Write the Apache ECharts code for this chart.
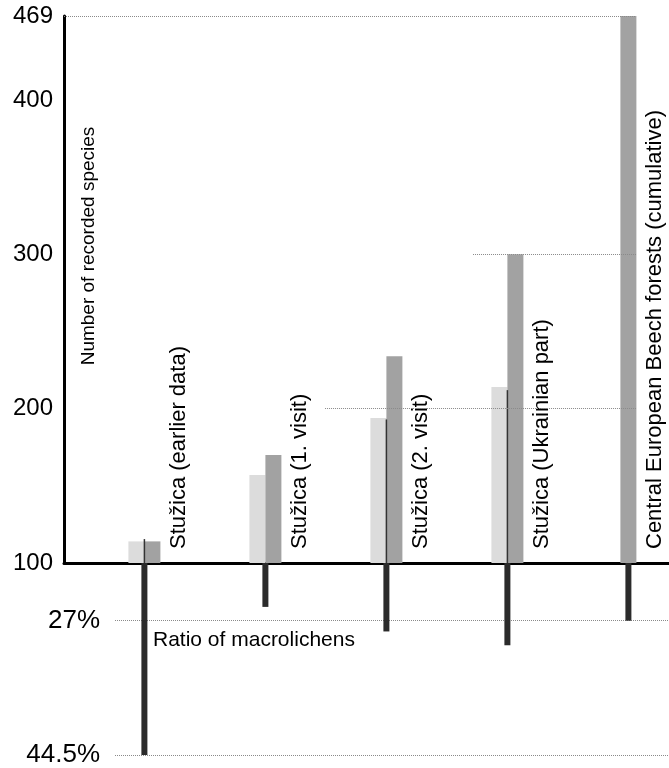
<!DOCTYPE html>
<html><head><meta charset="utf-8">
<script src="https://cdn.jsdelivr.net/npm/echarts@6/dist/echarts.min.js"></script>
<style>html,body{margin:0;padding:0;background:#fff}#c{width:669px;height:768px}</style>
</head><body><div id="c"></div>
<script>
// ---- data ----
const categories = ['Stužica (earlier data)', 'Stužica (1. visit)', 'Stužica (2. visit)', 'Stužica (Ukrainian part)', 'Central European Beech forests (cumulative)'];
const speciesLight = [114, 157, 194, 214, null];
const speciesDark = [114, 170, 234, 300, null];
const speciesCumulative = [null, null, null, null, 469];
const separatorMarks = [115.5, null, 193, 212, null];
const macrolichenRatio = [44.5, 25.2, 28.4, 30.2, 27];
const speciesTicks = [100, 200, 300, 400, 469];
const ratioTicks = [27, 44.5];
const guideValues = [469, 300, 200];

// ---- layout / style ----
const FONT = "'Liberation Sans', Arial, sans-serif";
const W = 669, UNIT = 121, firstCenter = 144.4, topLeft = 64, lowLeft = 115;
const topMin = -(firstCenter - topLeft) / UNIT;
const xMax = topMin + (W - topLeft) / UNIT;
const lowMin = -(firstCenter - lowLeft) / UNIT;
const guideStart = [topMin, 2.716, 1.493];
const guideEnd = 4.063;

const pairs = arr => arr.map((v, i) => v == null ? null : [i, v]).filter(Boolean);

const xAxisOf = (gridIndex, min, showLine) => ({
  type: 'value', gridIndex, min, max: xMax, position: 'bottom',
  axisLine: { show: showLine, onZero: false, lineStyle: { color: '#000', width: 3 } },
  axisTick: { show: false }, axisLabel: { show: false }, splitLine: { show: false }
});

const catLabel = {
  show: true, position: ['100%', '100%'], rotate: 90, align: 'left', verticalAlign: 'top',
  offset: [14, 8], formatter: p => categories[p.value[0]],
  fontSize: 22, color: '#000', fontFamily: FONT
};

const option = {
  animation: false,
  backgroundColor: '#fff',
  grid: [
    { left: topLeft, right: 0, top: 16, height: 547 },
    { left: lowLeft, right: 0, top: 563, height: 193 }
  ],
  xAxis: [xAxisOf(0, topMin, true), xAxisOf(0, topMin, false), xAxisOf(1, lowMin, false), xAxisOf(0, topMin, false)],
  yAxis: [
    {
      type: 'value', gridIndex: 0, min: 100, max: 469,
      breaks: [{ start: 410, end: 460, gap: 35.4 }],
      breakArea: { show: false, zigzagAmplitude: 0, itemStyle: { color: 'rgba(0,0,0,0)', borderColor: 'rgba(0,0,0,0)', borderWidth: 0 } },
      axisLine: { show: false, onZero: false },
      axisTick: { show: false, customValues: speciesTicks },
      axisLabel: { customValues: speciesTicks, fontSize: 24, color: '#000', fontFamily: FONT, margin: 11 },
      splitLine: { show: false }
    },
    {
      type: 'value', gridIndex: 1, min: 19.48, max: 44.5, inverse: true,
      axisLine: { show: false, onZero: false },
      axisTick: { show: false, customValues: ratioTicks },
      axisLabel: { customValues: ratioTicks, formatter: v => v + '%', fontSize: 26, color: '#000', fontFamily: FONT, margin: 15 },
      splitLine: { show: true, lineStyle: { color: '#8a8a8a', width: 1, type: 'dotted' } }
    },
    {
      type: 'value', gridIndex: 0, min: 100, max: 469, position: 'left',
      axisLine: { show: true, onZero: false, lineStyle: { color: '#000', width: 3 } },
      axisTick: { show: false }, axisLabel: { show: false }, splitLine: { show: false }
    }
  ],
  series: [
    {
      type: 'line', xAxisIndex: 0, yAxisIndex: 0, data: [], z: 1, silent: true,
      markLine: {
        silent: true, symbol: 'none', label: { show: false },
        lineStyle: { color: '#8a8a8a', width: 1, type: 'dotted' },
        data: guideValues.map((v, k) => [{ coord: [guideStart[k], v] }, { coord: [guideEnd, v] }])
      }
    },
    {
      type: 'bar', xAxisIndex: 0, yAxisIndex: 0, data: pairs(speciesLight), barWidth: 16, barGap: '0%', z: 2,
      itemStyle: { color: '#dcdcdc' }
    },
    {
      type: 'bar', xAxisIndex: 0, yAxisIndex: 0, data: pairs(speciesDark), barWidth: 16, barGap: '0%', z: 2,
      itemStyle: { color: '#a2a2a2' }, label: catLabel
    },
    {
      type: 'bar', xAxisIndex: 1, yAxisIndex: 0, data: pairs(speciesCumulative), barWidth: 16, z: 2,
      itemStyle: { color: '#a2a2a2' }, label: catLabel
    },
    {
      type: 'bar', xAxisIndex: 3, yAxisIndex: 0, data: pairs(separatorMarks), barWidth: 1.5, z: 3,
      itemStyle: { color: '#333' }
    },
    {
      type: 'bar', xAxisIndex: 2, yAxisIndex: 1, data: pairs(macrolichenRatio), barWidth: 6, z: 2,
      itemStyle: { color: '#2b2b2b' }
    }
  ],
  graphic: [
    {
      type: 'text', x: 88.5, y: 246, rotation: Math.PI / 2, silent: true,
      style: { text: 'Number of recorded species', font: '19px ' + FONT, fill: '#000', align: 'center', verticalAlign: 'middle', textAlign: 'center', textVerticalAlign: 'middle' }
    },
    {
      type: 'text', left: 153, top: 630, silent: true,
      style: { text: 'Ratio of macrolichens', font: '21px ' + FONT, fill: '#000' }
    }
  ]
};

const chart = echarts.init(document.getElementById('c'), null, { renderer: 'canvas' });
chart.setOption(option);
</script>
</body></html>
